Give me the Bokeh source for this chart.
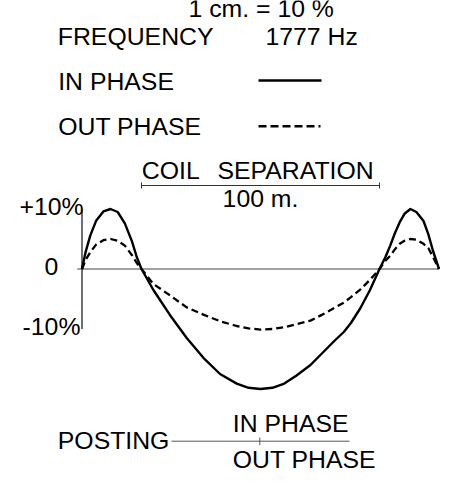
from bokeh.plotting import figure
from bokeh.models import Range1d
from bokeh.core.properties import value
from bokeh.embed import file_html
from bokeh.resources import INLINE

# ---- data (distance along profile in m, response in %) ----
x_pos = [0, 1.5, 3.5, 6, 9, 12, 15, 18, 21, 23, 25, 30, 37, 44, 51, 58, 65, 70, 75,
         80, 85, 90, 96, 101, 106, 110, 113, 117, 121, 125, 127.5, 129.5, 131.5,
         133.5, 135.5, 138, 140.5, 143.5, 145.5, 147.5, 150]
in_phase = [0, 2.8, 5.6, 8.1, 9.6, 10, 9.5, 7.6, 4.6, 2.0, 0, -3.5, -7.7, -11.5,
            -14.8, -17.5, -19.1, -19.8, -20, -19.8, -19.1, -17.8, -16.0, -14.0,
            -12.0, -10.5, -9.0, -6.5, -3.5, 0, 2.0, 3.9, 6.0, 7.8, 9.2, 10, 9.5,
            8.0, 5.8, 3.0, 0]
out_phase = [0, 1.5, 2.8, 4.1, 4.8, 5.0, 4.7, 3.9, 2.3, 1.0, 0, -2.5, -4.4, -6.4,
             -7.6, -8.7, -9.5, -9.9, -10.1, -10.0, -9.7, -9.2, -8.6, -7.6, -6.5,
             -5.6, -4.7, -3.4, -1.8, 0, 1.4, 2.2, 3.3, 4.2, 4.7, 5.0, 4.9, 4.2,
             3.5, 2.0, 0]
coil_start = 25
coil_separation = 100
y_ticks = [10, 0, -10]
y_tick_labels = ["+10%", "0", "-10%"]
scale_label = "1 cm. = 10 %"
freq_label = ["FREQUENCY", "1777 Hz"]
legend_labels = ["IN PHASE", "OUT PHASE"]
coil_words = ["COIL", "SEPARATION"]
coil_distance_label = "100 m."
posting_labels = ["POSTING", "IN PHASE", "OUT PHASE"]

# ---- layout: picture pixel -> data helpers ----
PX_PER_M = 2.38
PX_PER_PCT = 6.0
X0_PX = 81.5
Y0_PX = 268.5
W, H = 452, 475
TXT_DY = 9.5  # baseline correction for text rendering


def X(px):
    return (px - X0_PX) / PX_PER_M


def Y(py):
    return (Y0_PX - py) / PX_PER_PCT


def TY(py):
    return Y(py - TXT_DY)


p = figure(width=W, height=H, output_backend="svg", toolbar_location=None,
           x_range=Range1d(X(0), X(W)), y_range=Range1d(Y(H), Y(0)),
           min_border=0, x_axis_location=None, y_axis_location=None,
           outline_line_color=None, background_fill_color="white",
           border_fill_color="white")
p.grid.visible = False

FONT = value("Liberation Sans")
FS = "24.8px"
common = dict(text_font=FONT, text_font_size=FS, text_baseline="alphabetic",
              text_color="black")

# zero line and vertical axis
p.segment(x0=[X(76.7)], y0=[0], x1=[x_pos[-1]], y1=[0], line_color="#444444", line_width=1.2)
p.segment(x0=[0], y0=[y_ticks[0]], x1=[0], y1=[y_ticks[-1]], line_color="#222222", line_width=1.3)

# curves
p.line(x_pos, in_phase, line_color="black", line_width=2.4, line_join="round")
p.line(x_pos, out_phase, line_color="black", line_width=2.3, line_dash="7 4", line_join="round")

# tick labels
p.text(x=[X(51)] * len(y_ticks), y=[TY(215), TY(275), TY(335)], text=y_tick_labels,
       text_align="center", **common)

# coil separation bracket
cx0, cx1 = coil_start, coil_start + coil_separation
p.segment(x0=[cx0], y0=[Y(185)], x1=[cx1], y1=[Y(185)], line_color="#333333", line_width=1.2)
p.segment(x0=[cx0, cx1], y0=[Y(182), Y(182)], x1=[cx0, cx1], y1=[Y(188), Y(188)],
          line_color="#333333", line_width=1)
p.text(x=[X(141.3), X(217.0)], y=[TY(179.5), TY(179.5)], text=coil_words,
       text_align="left", **common)
p.text(x=[(cx0 + cx1) / 2], y=[TY(207)], text=[coil_distance_label],
       text_align="center", **common)

# header texts
p.text(x=[X(188), X(57.3), X(265), X(57.7), X(57.7)],
       y=[TY(17.5), TY(45.7), TY(45.7), TY(90.7), TY(135)],
       text=[scale_label] + freq_label + legend_labels, text_align="left", **common)

# legend line samples
p.segment(x0=[X(258)], y0=[Y(80)], x1=[X(321)], y1=[Y(80)], line_color="black", line_width=2.4)
p.segment(x0=[X(258)], y0=[Y(125.7)], x1=[X(320)], y1=[Y(125.7)], line_color="black",
          line_width=2.4, line_dash="8 4")

# posting diagram
p.segment(x0=[X(171)], y0=[Y(440.7)], x1=[X(349)], y1=[Y(440.7)], line_color="#555555", line_width=1)
p.segment(x0=[X(259.3)], y0=[Y(437)], x1=[X(259.3)], y1=[Y(444.5)], line_color="#555555", line_width=1)
p.text(x=[X(57.3), X(232.3), X(232.3)], y=[TY(449.3), TY(432.3), TY(468.3)],
       text=posting_labels, text_align="left", **common)

open("out.html", "w").write(file_html(p, INLINE))
